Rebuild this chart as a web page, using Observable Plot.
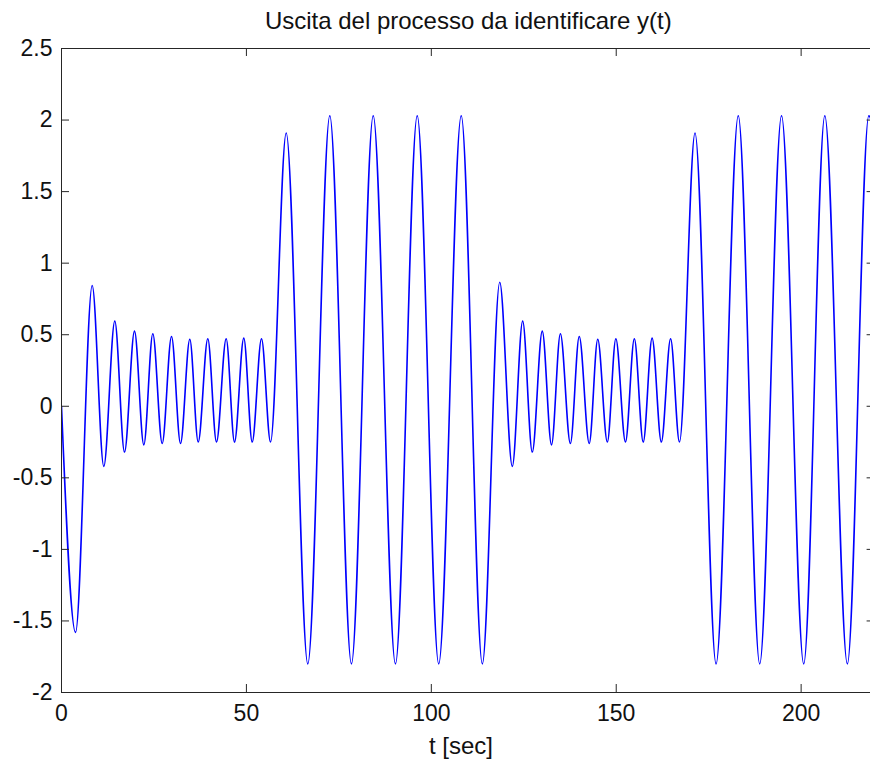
<!DOCTYPE html>
<html>
<head>
<meta charset="utf-8">
<script src="https://cdn.jsdelivr.net/npm/d3@7"></script>
<script src="https://cdn.jsdelivr.net/npm/@observablehq/plot@0.6"></script>
<style>
  html, body { margin: 0; padding: 0; background: #fff; overflow: hidden; }
  #chart { width: 870px; height: 761px; overflow: hidden; }
  #chart svg { display: block; }
</style>
</head>
<body>
<div id="chart"></div>
<script>
// --- Data (extrema of y(t)) ---
const tValues = [
  0, 3.8, 8.3,
  11.44, 14.41, 17.04, 19.74, 22.26, 24.69, 27.23, 29.75, 32.18, 34.69, 36.97, 39.56,
  41.91, 44.53, 46.78, 49.29, 51.57, 54.08, 56.52,
  60.76, 66.6, 72.55, 78.4, 84.29, 90.3, 96.19, 102.0, 108.09, 113.8,
  118.5, 121.9, 124.7, 127.3, 130.0, 132.5, 134.9, 137.6, 140.0, 142.7, 145.0, 147.6,
  149.9, 152.5, 154.9, 157.3, 159.7, 162.2, 164.7, 167.1,
  171.3, 177.0, 183.0, 188.8, 194.7, 200.7, 206.4, 212.5, 218.3, 220
];
const yValues = [
  0, -1.58, 0.844,
  -0.42, 0.595, -0.32, 0.525, -0.27, 0.507, -0.26, 0.488, -0.26, 0.468, -0.25, 0.472,
  -0.25, 0.472, -0.25, 0.476, -0.25, 0.472, -0.25,
  1.91, -1.80, 2.03, -1.80, 2.03, -1.80, 2.03, -1.80, 2.03, -1.80,
  0.867, -0.42, 0.595, -0.32, 0.525, -0.27, 0.507, -0.26, 0.488, -0.26, 0.468, -0.25,
  0.472, -0.25, 0.472, -0.25, 0.476, -0.25, 0.472, -0.25,
  1.91, -1.80, 2.03, -1.80, 2.03, -1.80, 2.03, -1.80, 2.03, 1.85
];
const xTicks = [0, 50, 100, 150, 200];
const yTicks = [-2, -1.5, -1, -0.5, 0, 0.5, 1, 1.5, 2, 2.5];
const titleText = "Uscita del processo da identificare y(t)";
const xLabelText = "t [sec]";

const series = tValues.map((t, i) => ({t, y: yValues[i]}));

// --- Layout (the axes box runs slightly past the right edge, as in the reference) ---
const width = 870, height = 761;
const mL = 61, mR = -4.6, mT = 48, mB = 69;
const W = width - mL - mR, H = height - mT - mB;
const tick = 8;
const ink = "#262626";

const chart = Plot.plot({
  width, height,
  marginLeft: mL, marginRight: mR, marginTop: mT, marginBottom: mB,
  style: {fontFamily: "'Liberation Sans', Arial, sans-serif", fontSize: "23px", color: "#000", background: "#fff"},
  x: {domain: [0, 220], ticks: xTicks, label: null},
  y: {domain: [-2, 2.5], ticks: yTicks, label: null},
  marks: [
    Plot.line(series, {x: "t", y: "y", curve: "monotone-x", stroke: "#0000ff", strokeWidth: 1.6, clip: true}),
    Plot.frame({stroke: ink, strokeWidth: 1}),
    // inward ticks on all four sides
    Plot.ruleX(xTicks, {x: d => d, insetTop: H - tick, stroke: ink}),
    Plot.ruleX(xTicks, {x: d => d, insetBottom: H - tick, stroke: ink}),
    Plot.ruleY(yTicks, {y: d => d, insetRight: W - tick, stroke: ink}),
    Plot.ruleY(yTicks, {y: d => d, insetLeft: W - tick, stroke: ink}),
    Plot.axisX({ticks: xTicks, tickSize: 0, tickPadding: 12, tickFormat: d => String(d), label: null, fontSize: 23, fill: "#111"}),
    Plot.axisY({ticks: yTicks, tickSize: 0, tickPadding: 9, tickFormat: d => String(d), label: null, fontSize: 23, fill: "#111"}),
    Plot.text([titleText], {text: d => d, x: 110, frameAnchor: "top", lineAnchor: "bottom", dy: -20, fontSize: 24, fill: "#111"}),
    Plot.text([xLabelText], {text: d => d, x: 108, frameAnchor: "bottom", lineAnchor: "bottom", dy: 61, fontSize: 24, fill: "#111"})
  ]
});
document.getElementById("chart").appendChild(chart);
</script>
</body>
</html>
